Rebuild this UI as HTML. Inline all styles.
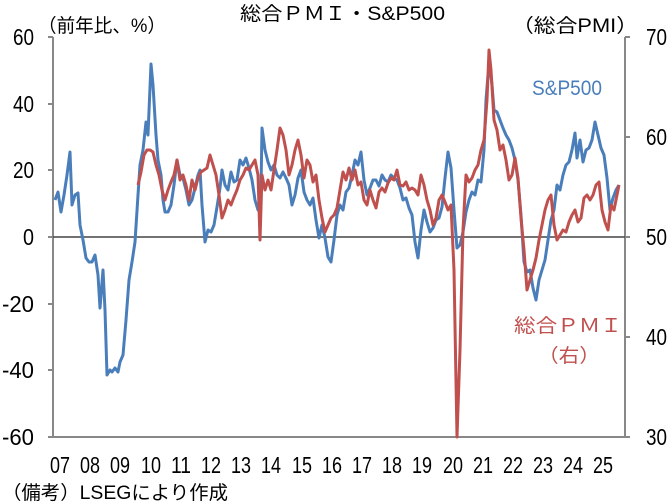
<!DOCTYPE html>
<html><head><meta charset="utf-8"><style>
html,body{margin:0;padding:0;background:#fff;}
svg{display:block;font-family:"Liberation Sans","Noto Sans CJK JP",sans-serif;}
</style></head><body>
<svg width="670" height="504" viewBox="0 0 670 504">
<text x="240" y="20" font-size="19" textLength="205" lengthAdjust="spacingAndGlyphs">総合ＰＭＩ・S&amp;P500</text>
<text x="38" y="32" font-size="19" textLength="128" lengthAdjust="spacingAndGlyphs">（前年比、%）</text>
<text x="512" y="32" font-size="19" textLength="126" lengthAdjust="spacingAndGlyphs">（総合PMI）</text>
<g font-size="23" fill="#000" text-anchor="end" lengthAdjust="spacingAndGlyphs">
<text x="34" y="45" textLength="21" lengthAdjust="spacingAndGlyphs">60</text><text x="34" y="112" textLength="21" lengthAdjust="spacingAndGlyphs">40</text><text x="34" y="178" textLength="21" lengthAdjust="spacingAndGlyphs">20</text><text x="34" y="245" textLength="11" lengthAdjust="spacingAndGlyphs">0</text><text x="34" y="312" textLength="32" lengthAdjust="spacingAndGlyphs">-20</text><text x="34" y="378" textLength="32" lengthAdjust="spacingAndGlyphs">-40</text><text x="34" y="445" textLength="32" lengthAdjust="spacingAndGlyphs">-60</text>
</g>
<g font-size="23" fill="#000">
<text x="646" y="45" textLength="21" lengthAdjust="spacingAndGlyphs">70</text><text x="646" y="145" textLength="21" lengthAdjust="spacingAndGlyphs">60</text><text x="646" y="245" textLength="21" lengthAdjust="spacingAndGlyphs">50</text><text x="646" y="345" textLength="21" lengthAdjust="spacingAndGlyphs">40</text><text x="646" y="445" textLength="21" lengthAdjust="spacingAndGlyphs">30</text>
</g>
<g stroke="#888" stroke-width="2" fill="none">
<line x1="53" y1="37" x2="53" y2="437"/><line x1="625" y1="37" x2="625" y2="437"/>
<line x1="48" y1="437" x2="630" y2="437"/>
<path d="M48 37H53M48 104H53M48 170H53M48 237H53M48 304H53M48 370H53M625 37H630M625 137H630M625 237H630M625 337H630"/>
</g>
<line x1="53" y1="237" x2="625" y2="237" stroke="#444" stroke-width="1.5"/>
<g font-size="23">
<text x="50" y="473" textLength="20" lengthAdjust="spacingAndGlyphs">07</text><text x="80" y="473" textLength="20" lengthAdjust="spacingAndGlyphs">08</text><text x="110" y="473" textLength="20" lengthAdjust="spacingAndGlyphs">09</text><text x="141" y="473" textLength="20" lengthAdjust="spacingAndGlyphs">10</text><text x="171" y="473" textLength="20" lengthAdjust="spacingAndGlyphs">11</text><text x="201" y="473" textLength="20" lengthAdjust="spacingAndGlyphs">12</text><text x="231" y="473" textLength="20" lengthAdjust="spacingAndGlyphs">13</text><text x="261" y="473" textLength="20" lengthAdjust="spacingAndGlyphs">14</text><text x="292" y="473" textLength="20" lengthAdjust="spacingAndGlyphs">15</text><text x="322" y="473" textLength="20" lengthAdjust="spacingAndGlyphs">16</text><text x="352" y="473" textLength="20" lengthAdjust="spacingAndGlyphs">17</text><text x="382" y="473" textLength="20" lengthAdjust="spacingAndGlyphs">18</text><text x="412" y="473" textLength="20" lengthAdjust="spacingAndGlyphs">19</text><text x="443" y="473" textLength="20" lengthAdjust="spacingAndGlyphs">20</text><text x="473" y="473" textLength="20" lengthAdjust="spacingAndGlyphs">21</text><text x="503" y="473" textLength="20" lengthAdjust="spacingAndGlyphs">22</text><text x="533" y="473" textLength="20" lengthAdjust="spacingAndGlyphs">23</text><text x="563" y="473" textLength="20" lengthAdjust="spacingAndGlyphs">24</text><text x="593" y="473" textLength="20" lengthAdjust="spacingAndGlyphs">25</text>
</g>
<text x="2" y="499" font-size="19" textLength="226" lengthAdjust="spacingAndGlyphs">（備考）LSEGにより作成</text>
<polyline fill="none" stroke="#4a7ebb" stroke-width="3" stroke-linejoin="round" points="55,200 58,192 61,212 64,195 67,175 70,152 72,205 75,195 78,193 80,225 83,240 86,258 89,262 92,262 95,255 98,275 100,308 103,270 105,310 107,375 110,370 112,372 115,368 118,372 120,362 123,355 126,320 129,280 132,262 135,242 138,195 140,165 143,150 146,122 148,135 151,64 153,85 156,135 158,160 161,175 163,200 165,212 168,212 171,205 174,185 177,160 180,175 183,178 186,190 189,205 192,200 195,188 198,175 200,170 202,205 205,242 208,230 211,232 214,225 217,207 220,188 222,170 225,185 228,190 231,172 234,182 237,180 240,160 243,165 246,158 249,168 252,180 255,200 258,210 261,188 262,128 265,150 268,162 271,170 274,165 277,175 280,178 283,172 286,178 289,185 292,205 295,195 298,178 301,170 304,192 307,200 310,205 313,198 316,220 319,238 322,225 325,238 328,257 331,262 334,240 337,215 340,205 343,210 346,192 349,188 352,175 355,160 358,165 361,152 364,180 367,195 370,188 373,180 376,180 379,186 382,175 385,180 388,182 391,175 394,178 397,180 400,188 403,200 406,198 409,208 412,215 415,242 418,258 421,230 424,210 427,222 430,232 433,228 436,220 439,218 442,207 445,178 448,152 451,168 454,210 457,248 460,245 463,232 466,212 469,200 472,192 475,195 478,180 481,182 484,150 486,100 488,75 490,68 492,85 494,110 497,112 500,120 503,128 506,135 509,140 512,148 515,160 518,180 521,215 524,262 527,272 530,270 533,288 536,300 539,280 542,270 545,260 548,240 551,220 554,210 557,185 560,190 563,175 566,165 569,162 572,150 575,133 577,158 580,140 583,162 586,150 589,148 592,140 595,122 598,135 601,148 604,155 607,178 610,210 613,198 616,190 619,185"/>
<polyline fill="none" stroke="#c0504d" stroke-width="3" stroke-linejoin="round" points="138,185 141,172 144,155 147,150 150,150 153,152 156,165 159,175 162,190 165,200 168,190 171,182 174,175 177,160 180,180 183,175 186,185 189,200 192,180 195,190 198,178 201,172 204,170 207,168 210,155 213,165 216,175 219,195 222,218 225,210 228,200 231,205 234,197 237,190 240,180 243,175 246,168 249,170 252,165 255,160 258,175 260,240 262,175 265,190 268,180 271,190 274,170 277,150 280,128 283,135 286,150 289,175 292,165 295,150 298,140 301,155 304,178 307,160 310,165 313,182 316,175 319,200 322,218 325,232 328,225 331,218 334,215 337,208 340,190 343,172 346,180 349,168 352,180 355,170 358,185 361,182 364,200 367,205 370,190 373,200 376,208 379,192 382,188 385,192 388,183 391,178 394,180 397,170 400,185 403,186 406,182 409,190 412,188 415,190 418,195 421,175 424,185 427,200 430,210 433,225 436,218 439,200 442,195 445,202 448,210 451,205 454,270 457,437 460,350 463,230 466,175 469,182 472,178 475,170 478,165 481,150 484,140 487,100 489,50 491,70 494,120 497,130 500,150 503,145 506,160 509,180 512,175 515,158 518,178 521,218 524,250 527,290 530,280 533,270 536,258 539,240 542,225 545,210 548,200 551,195 554,225 557,240 560,235 563,230 566,232 569,222 572,215 575,210 578,222 581,218 584,198 587,195 590,200 593,195 596,185 599,182 602,210 605,222 608,230 611,205 614,210 617,195 619,185"/>
<text x="532" y="95" font-size="21" fill="#4a7ebb" textLength="70" lengthAdjust="spacingAndGlyphs">S&amp;P500</text>
<text x="514" y="332" font-size="19" fill="#c0504d" textLength="108" lengthAdjust="spacingAndGlyphs">総合ＰＭＩ</text>
<text x="538" y="362" font-size="19" fill="#c0504d" textLength="62" lengthAdjust="spacingAndGlyphs">（右）</text>
</svg>
</body></html>
